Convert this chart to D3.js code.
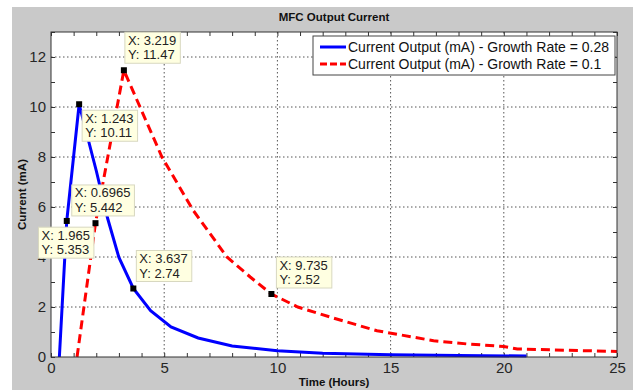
<!DOCTYPE html>
<html><head><meta charset="utf-8">
<script src="https://cdn.jsdelivr.net/npm/d3@7"></script>
<style>body{margin:0;background:#fff}svg{display:block;font-family:Arial,"Liberation Sans",sans-serif}</style>
</head><body>
<script>
// ---- data ----
const blueX = [0.37, 0.6965, 1.243, 2.0, 2.5, 3.0, 3.637, 4.4, 5.3, 6.5, 8.0, 10.0, 12.0, 15.0, 18.0, 21.0];
const blueY = [0, 5.442, 10.11, 7.45, 5.55, 3.98, 2.74, 1.85, 1.2, 0.76, 0.44, 0.25, 0.15, 0.09, 0.06, 0.04];
const redX = [1.15, 1.965, 3.219, 4.9, 6.27, 7.77, 8.8, 9.735, 10.9, 12.5, 14.4, 16.9, 18.4, 20.0, 20.6, 25.0];
const redY = [0, 5.353, 11.47, 8.0, 5.88, 4.0, 3.2, 2.52, 2.0, 1.55, 1.05, 0.65, 0.52, 0.42, 0.32, 0.22];
const seriesNames = ["Current Output (mA) - Growth Rate = 0.28", "Current Output (mA) - Growth Rate = 0.1"];
const tipX = [3.219, 1.243, 0.6965, 1.965, 3.637, 9.735];
const tipY = [11.47, 10.11, 5.442, 5.353, 2.74, 2.52];
const xTicks = [0, 5, 10, 15, 20, 25];
const yTicks = [0, 2, 4, 6, 8, 10, 12];
const titleText = "MFC Output Current";
const xLabel = "Time (Hours)";
const yLabel = "Current (mA)";

// ---- layout ----
const W = 633, H = 390;
const L = 51, R = 617, T = 32, B = 357;
// label box top-left offsets relative to marker
const tipBox = [[1, -38], [3, 6], [5, -36], [-57, 4], [3, -38], [5, -37]];

const svg = d3.select("body").append("svg").attr("width", W).attr("height", H);
svg.append("rect").attr("x", 12).attr("y", 7).attr("width", W - 12).attr("height", H - 7).attr("fill", "#c9c9c9");

const x = d3.scaleLinear().domain([0, 25]).range([L, R]);
const y = d3.scaleLinear().domain([0, 13]).range([B, T]);

svg.append("rect").attr("x", L).attr("y", T).attr("width", R - L).attr("height", B - T).attr("fill", "#fff");

// grid
const g = svg.append("g");
g.selectAll(".gx").data(xTicks.slice(1, -1)).enter().append("line")
  .attr("x1", d => x(d)).attr("x2", d => x(d)).attr("y1", T).attr("y2", B)
  .attr("stroke", "#555").attr("stroke-width", 1).attr("stroke-dasharray", "1.5,2.5");
g.selectAll(".gy").data(yTicks.slice(1)).enter().append("line")
  .attr("y1", d => y(d)).attr("y2", d => y(d)).attr("x1", L).attr("x2", R)
  .attr("stroke", "#555").attr("stroke-width", 1).attr("stroke-dasharray", "1.5,2.5");

// axes with inside ticks
const minorX = d3.range(0, 26, 1), minorY = d3.range(0, 14, 1);
const axBottom = d3.axisBottom(x).tickValues(minorX).tickSize(-4).tickFormat("");
const axTop = d3.axisTop(x).tickValues(minorX).tickSize(-4).tickFormat("");
const axLeft = d3.axisLeft(y).tickValues(minorY).tickSize(-4).tickFormat("");
const axRight = d3.axisRight(y).tickValues(minorY).tickSize(-4).tickFormat("");
[[axBottom, `translate(0,${B})`], [axTop, `translate(0,${T})`], [axLeft, `translate(${L},0)`], [axRight, `translate(${R},0)`]].forEach(([a, t]) => {
  const gg = svg.append("g").attr("transform", t).call(a);
  gg.selectAll("path,line").attr("stroke", "#333");
  gg.select(".domain").remove();
});

// tick labels
svg.append("g").attr("transform", `translate(0,${B})`)
  .call(d3.axisBottom(x).tickValues(xTicks).tickSize(0).tickPadding(5).tickFormat(d3.format("d")))
  .call(s => { s.select(".domain").remove(); s.selectAll("text").attr("font-size", 15).attr("fill", "#262626").attr("font-family", "Arial"); });
svg.append("g").attr("transform", `translate(${L},0)`)
  .call(d3.axisLeft(y).tickValues(yTicks).tickSize(0).tickPadding(5).tickFormat(d3.format("d")))
  .call(s => { s.select(".domain").remove(); s.selectAll("text").attr("font-size", 15).attr("fill", "#262626").attr("font-family", "Arial"); });

// lines
const line = d3.line().x(d => x(d[0])).y(d => y(d[1]));
svg.append("path").datum(redX.map((v, i) => [v, redY[i]])).attr("d", line)
  .attr("fill", "none").attr("stroke", "#ff0000").attr("stroke-width", 3).attr("stroke-dasharray", "9,5");
svg.append("path").datum(blueX.map((v, i) => [v, blueY[i]])).attr("d", line)
  .attr("fill", "none").attr("stroke", "#0000ff").attr("stroke-width", 3);

// plot border
svg.append("rect").attr("x", L).attr("y", T).attr("width", R - L).attr("height", B - T)
  .attr("fill", "none").attr("stroke", "#333").attr("stroke-width", 1);

// data tips
tipX.forEach((tx, i) => {
  const mx = x(tx), my = y(tipY[i]);
  const bx = mx + tipBox[i][0], by = my + tipBox[i][1];
  const gt = svg.append("g");
  const rect = gt.append("rect").attr("x", bx).attr("y", by).attr("height", 31)
    .attr("fill", "#ffffe1").attr("stroke", "#d8d8c0").attr("stroke-width", 1);
  const t1 = gt.append("text").attr("x", bx + 3).attr("y", by + 12.5).attr("font-size", 13).attr("fill", "#222").text("X: " + tx);
  const t2 = gt.append("text").attr("x", bx + 3).attr("y", by + 27).attr("font-size", 13).attr("fill", "#222").text("Y: " + tipY[i]);
  const w = Math.max(t1.node().getComputedTextLength(), t2.node().getComputedTextLength());
  rect.attr("width", w + 7);
  svg.append("rect").attr("x", mx - 3).attr("y", my - 3).attr("width", 6).attr("height", 6).attr("fill", "#000");
});

// legend
const lg = svg.append("g");
lg.append("rect").attr("x", 313).attr("y", 36).attr("width", 302).attr("height", 39)
  .attr("fill", "#fff").attr("stroke", "#444").attr("stroke-width", 1);
const lcolors = ["#0000ff", "#ff0000"], ldash = [null, "7,3"];
seriesNames.forEach((n, i) => {
  const yy = 47 + i * 17;
  lg.append("line").attr("x1", 320).attr("x2", 346).attr("y1", yy).attr("y2", yy)
    .attr("stroke", lcolors[i]).attr("stroke-width", 3).attr("stroke-dasharray", ldash[i]);
  lg.append("text").attr("x", 348).attr("y", yy + 5).attr("font-size", 14).attr("fill", "#111").text(n);
});

// titles
svg.append("text").attr("x", (L + R) / 2).attr("y", 21).attr("text-anchor", "middle")
  .attr("font-size", 11.5).attr("font-weight", "bold").attr("fill", "#111").text(titleText);
svg.append("text").attr("x", (L + R) / 2).attr("y", 386).attr("text-anchor", "middle")
  .attr("font-size", 11.5).attr("font-weight", "bold").attr("fill", "#111").text(xLabel);
svg.append("text").attr("transform", `translate(26,${(T + B) / 2}) rotate(-90)`).attr("text-anchor", "middle")
  .attr("font-size", 11.5).attr("font-weight", "bold").attr("fill", "#111").text(yLabel);
</script>
</body></html>
